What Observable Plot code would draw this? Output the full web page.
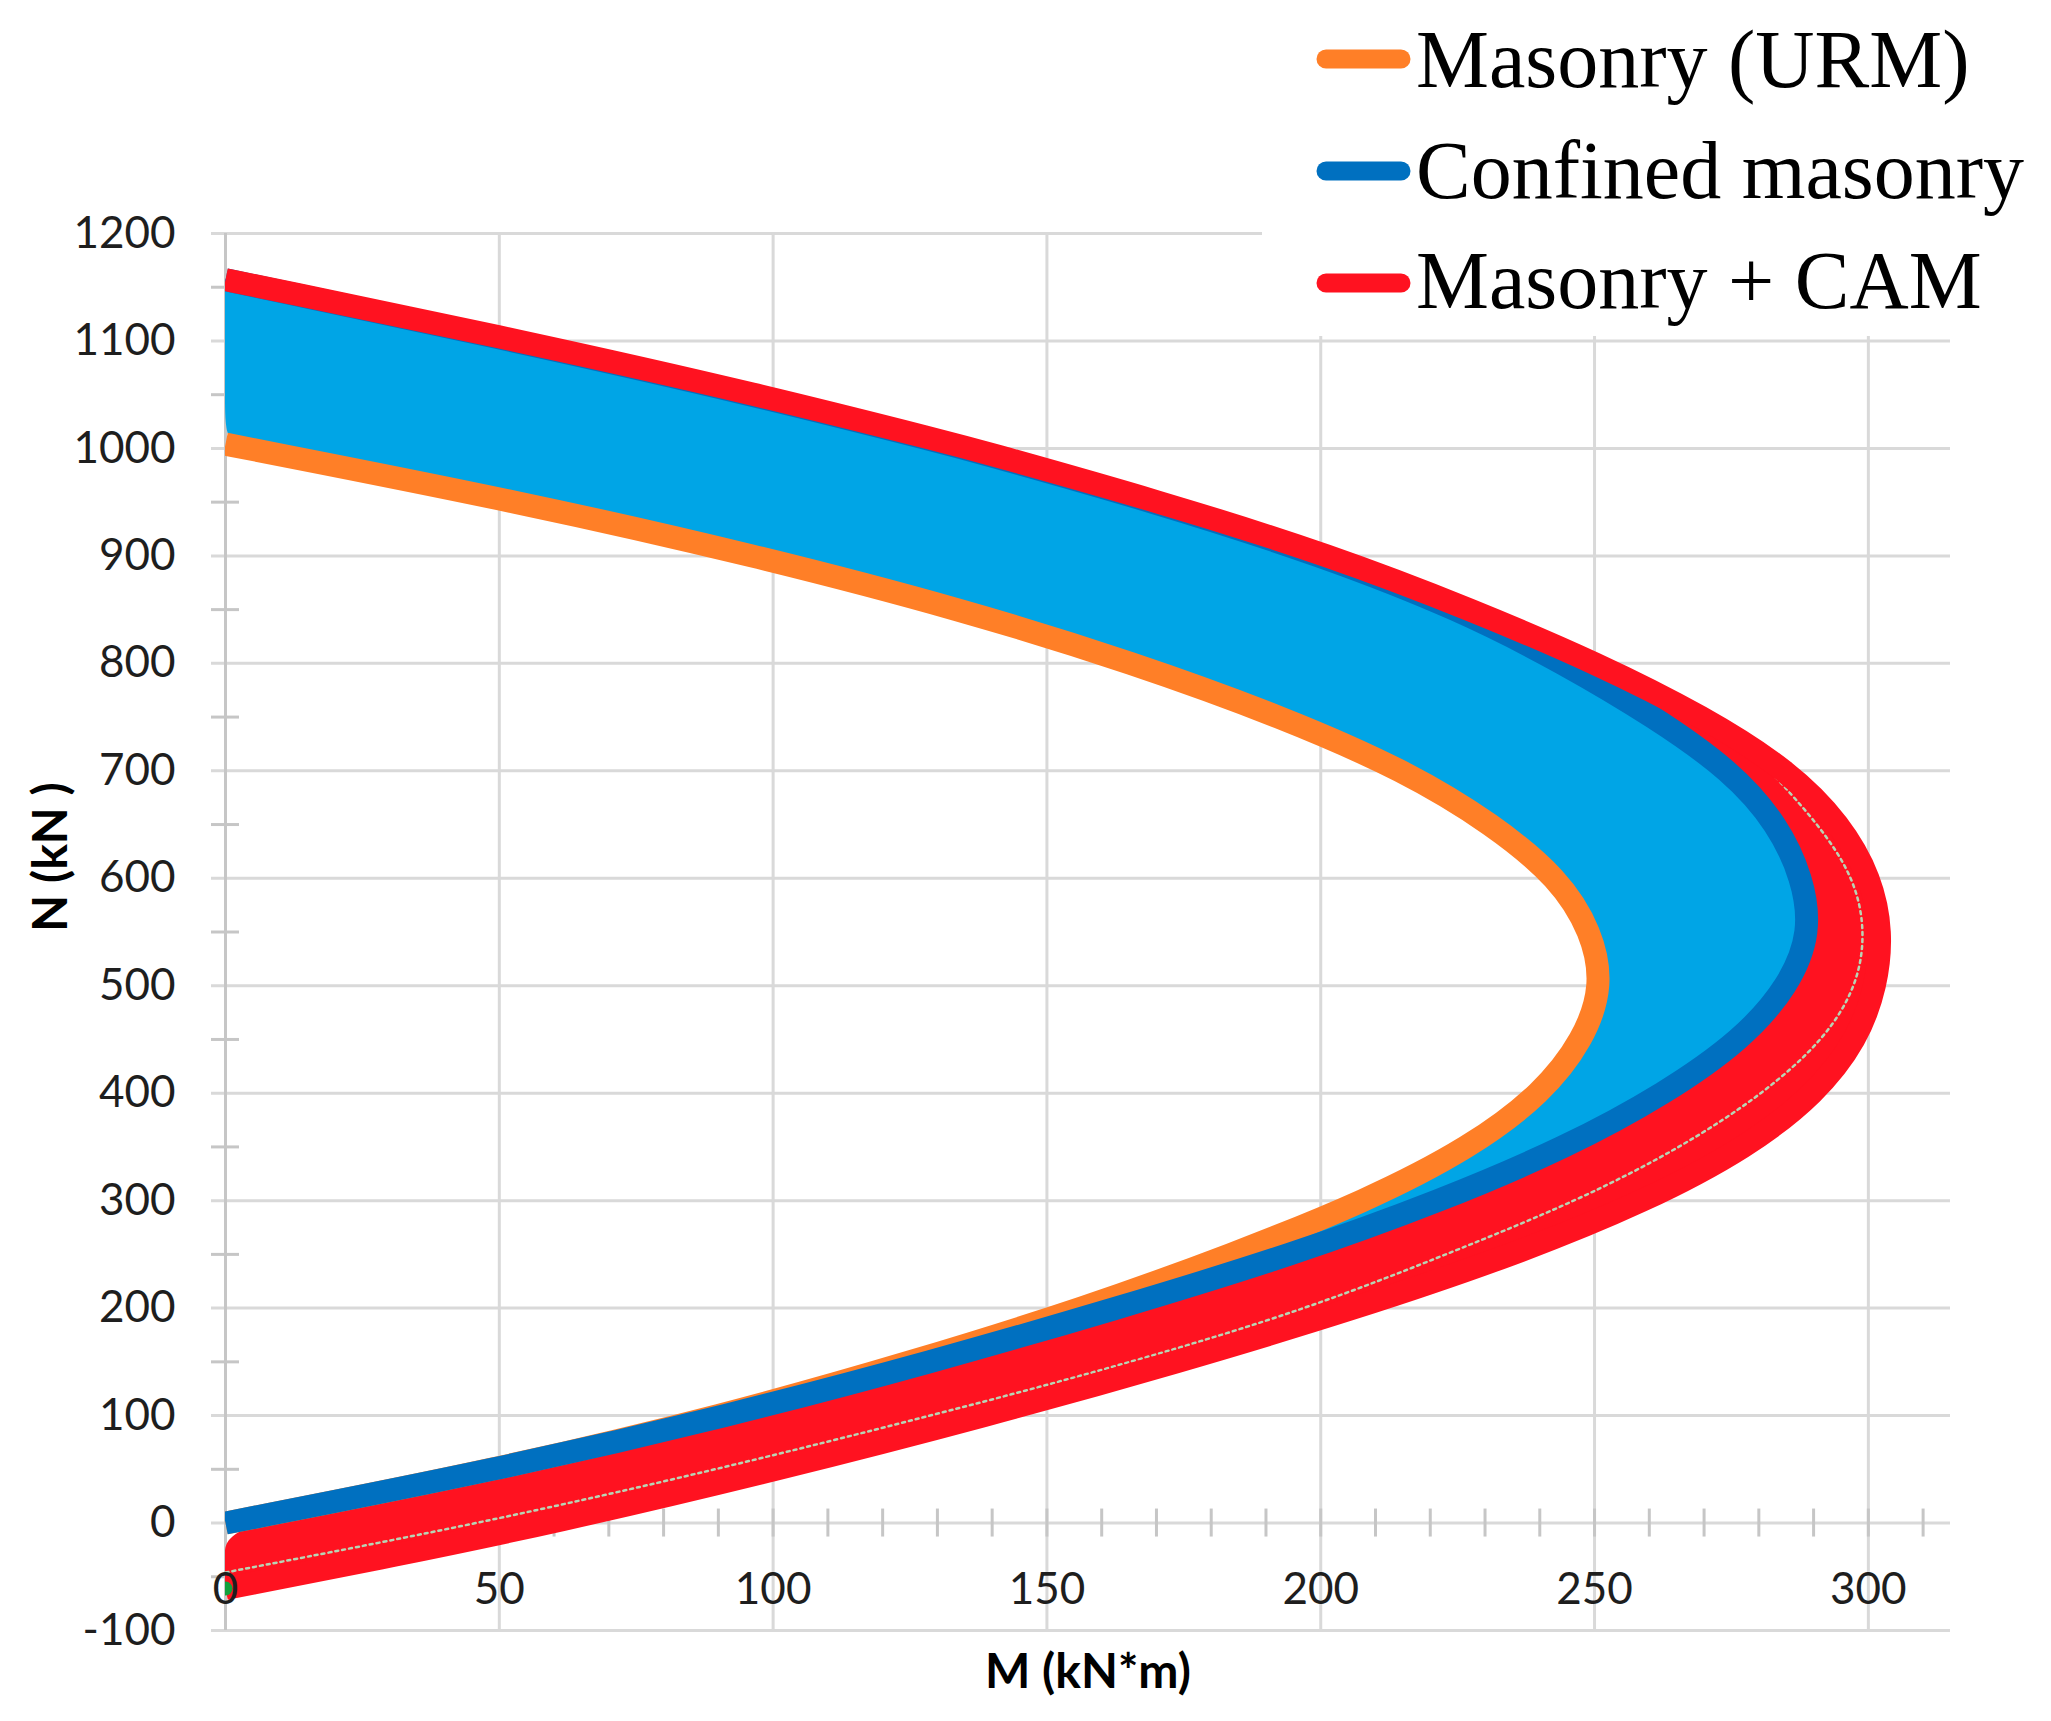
<!DOCTYPE html>
<html>
<head>
<meta charset="utf-8">
<script src="https://cdn.jsdelivr.net/npm/d3@7"></script>
<script src="https://cdn.jsdelivr.net/npm/@observablehq/plot@0.6"></script>
<style>
  html, body { margin: 0; padding: 0; background: #ffffff; }
  #wrap { position: relative; width: 2051px; height: 1721px; overflow: hidden; }
  #legend { position: absolute; left: 1262px; top: 0px; }
</style>
</head>
<body>
<div id="wrap"></div>
<script>
// ---- Data ----
// Axial force levels N (kN) at which the bending moment M (kN*m) of each curve was read
const nLevels = [-61, -30, 0, 50, 100, 150, 200, 250, 300, 350, 400, 450, 500, 550, 600, 650, 700, 750, 800, 850, 900, 950, 1000, 1004, 1050, 1100, 1150, 1157];
// Masonry (URM)
const mURM = [null, null, 0, 50, 91, 125.5, 157, 184, 208.5, 227.5, 240.5, 248, 251.5, 249.5, 243.5, 231.5, 215.5, 193, 166, 134.5, 97, 54, 4, 0, null, null, null, null];
// Confined masonry
const mCM  = [null, null, 0, 50, 92, 129, 163, 195, 222, 245, 263, 277, 285.5, 289.5, 288, 283.5, 275, 261, 244.5, 225.5, 200.5, 170, 135, 132, 96.5, 53, 6.5, 0];
// Masonry + CAM
const mCAM = [0, 31, 59.5, 101, 139, 174, 206.5, 235.5, 259.5, 278, 290.5, 298, 301.5, 302.5, 300.5, 295, 285.5, 270, 250.5, 227.5, 202, 171, 136, 133, 97.5, 54, 7, 0];
// dotted edge of the CAM area (drawing artefact visible in the reference)
const dotN = [-46, 0, 50, 100, 150, 200, 250, 300, 350, 400, 450, 500, 550, 600, 650, 700];
const dotM = [0, 47, 90, 129, 166, 198, 223, 247, 266, 281, 292, 298, 299.5, 297.5, 291, 282];

// Axis ticks
const yTicks = [-100, 0, 100, 200, 300, 400, 500, 600, 700, 800, 900, 1000, 1100, 1200];
const yMinor = [-50, 50, 150, 250, 350, 450, 550, 650, 750, 850, 950, 1050, 1150];
const xTicks = [0, 50, 100, 150, 200, 250, 300];
const xGrid = [50, 100, 150, 200, 250, 300];
const xMinor = [10, 20, 30, 40, 50, 60, 70, 80, 90, 100, 110, 120, 130, 140, 150, 160, 170, 180, 190, 200, 210, 220, 230, 240, 250, 260, 270, 280, 290, 300, 310];

const seriesNames = ["Masonry (URM)", "Confined masonry", "Masonry + CAM"];
const xLabel = "M (kN*m)";
const yLabel = "N (kN )";

// ---- Styles ----
const cOrange = "#FF7F27";
const cBlue = "#0070C0";
const cRed = "#FF1220";
const cFillBlue = "#00A5E6";
const cGrid = "#d9d9d9";
const cAxis = "#c6c6c6";
const seriesColors = [cOrange, cBlue, cRed];

const rows = nLevels.map((N, i) => ({N, urm: mURM[i], cm: mCM[i], cam: mCAM[i]}));
const dotted = dotN.map((N, i) => ({N, M: dotM[i]}));
const curve = "basis";
const lw = 23;

const chart = Plot.plot({
  width: 2051,
  height: 1721,
  marginLeft: 225,
  marginRight: 101,
  marginTop: 233,
  marginBottom: 91,
  x: {domain: [0, 315], axis: null},
  y: {domain: [-100, 1200], axis: null},
  style: {fontFamily: "Lato, sans-serif", background: "#ffffff", overflow: "visible"},
  marks: [
    // grid
    Plot.ruleY(yTicks, {y: d => d, x1: 0, x2: 315, insetLeft: -14, stroke: cGrid, strokeWidth: 3}),
    Plot.ruleX(xGrid, {x: d => d, y1: -100, y2: 1200, stroke: cGrid, strokeWidth: 3}),
    Plot.ruleX([0], {x: d => d, y1: -100, y2: 1200, stroke: cAxis, strokeWidth: 3}),
    Plot.ruleY(yMinor, {y: d => d, x1: 0, x2: 0, insetLeft: -14, insetRight: -14, stroke: cAxis, strokeWidth: 3}),
    Plot.ruleX(xMinor, {x: d => d, y1: 0, y2: 0, insetTop: -14, insetBottom: -14, stroke: cAxis, strokeWidth: 3}),
    // filled regions
    Plot.areaX(rows.filter(d => d.cm != null), {y: "N", x1: d => d.urm ?? 0, x2: "cm", fill: cFillBlue, curve, clip: "frame"}),
    Plot.areaX(rows, {y: "N", x1: d => d.cm ?? 0, x2: "cam", fill: cRed, curve, clip: "frame"}),
    Plot.line(dotted, {x: "M", y: "N", stroke: "#b8d4b4", strokeWidth: 2.5, strokeDasharray: "3,4", curve, clip: "frame"}),
    // curves
    Plot.line(rows.filter(d => d.urm != null), {x: "urm", y: "N", stroke: cOrange, strokeWidth: lw, strokeLinecap: "butt", curve, clip: "frame"}),
    Plot.line(rows.filter(d => d.cm != null), {x: "cm", y: "N", stroke: cBlue, strokeWidth: lw, strokeLinecap: "butt", curve, clip: "frame"}),
    Plot.line(rows, {x: "cam", y: "N", stroke: cRed, strokeWidth: lw, strokeLinecap: "butt", curve, clip: "frame"}),
    Plot.dot(rows.slice(0, 1), {x: "cam", y: "N", r: 7, fill: "#12a03c", clip: "frame"}),
    // tick labels
    Plot.text(yTicks, {y: d => d, text: d => String(d), frameAnchor: "left", dx: -50, textAnchor: "end", lineAnchor: "middle", fontSize: 44, fill: "#1e1e1e"}),
    Plot.text(xTicks, {x: d => d, y: () => 0, text: d => String(d), dy: 67, textAnchor: "middle", lineAnchor: "middle", fontSize: 44, fill: "#1e1e1e"}),
    // axis titles
    Plot.text([xLabel], {text: d => d, frameAnchor: "bottom", dy: 42, lineAnchor: "middle", textAnchor: "middle", fontSize: 48, fontWeight: 700, fill: "#000"}),
    Plot.text([yLabel], {text: d => d, frameAnchor: "left", dx: -174, dy: -75, rotate: -90, lineAnchor: "middle", textAnchor: "middle", fontSize: 48, fontWeight: 700, fill: "#000"})
  ]
});

const wrap = document.getElementById("wrap");
wrap.appendChild(chart);

// legend (drawn over the top-right corner with a white background, as in the reference)
const lg = d3.create("svg").attr("id", "legend").attr("width", 789).attr("height", 336);
lg.append("rect").attr("width", 789).attr("height", 336).attr("fill", "#ffffff");
seriesNames.forEach((name, i) => {
  const cy = 59 + i * 112;
  lg.append("line")
    .attr("x1", 64).attr("x2", 139).attr("y1", cy).attr("y2", cy)
    .attr("stroke", seriesColors[i]).attr("stroke-width", 19).attr("stroke-linecap", "round");
  lg.append("text")
    .attr("x", 154).attr("y", 87 + i * 110.5)
    .attr("font-family", "'Liberation Serif', 'DejaVu Serif', serif")
    .attr("font-size", 82).attr("fill", "#000")
    .text(name);
});
wrap.appendChild(lg.node());
</script>
</body>
</html>
